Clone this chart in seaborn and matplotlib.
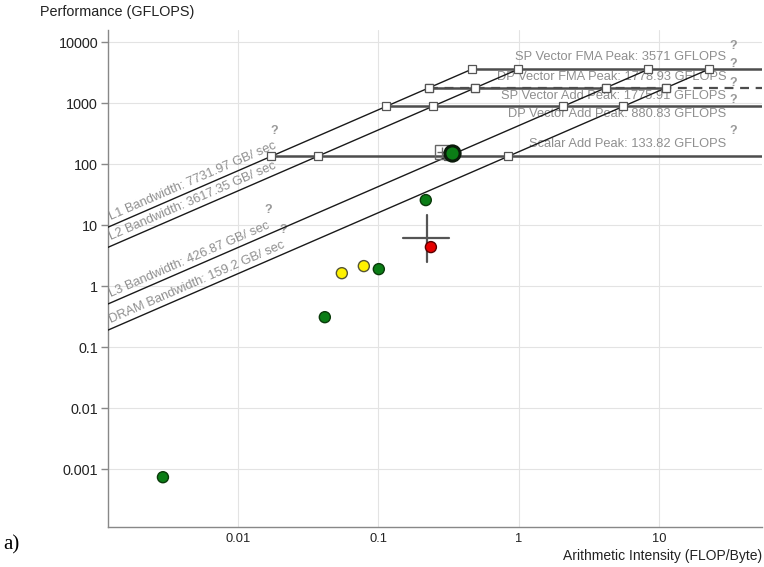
import numpy as np
import pandas as pd
import seaborn as sns
import matplotlib
matplotlib.use('Agg')
import matplotlib.pyplot as plt

# Roofs (GFLOPS) and memory bandwidths (GB/sec)
peak_names = ['SP Vector FMA Peak', 'DP Vector FMA Peak', 'SP Vector Add Peak',
              'DP Vector Add Peak', 'Scalar Add Peak']
peak_values = [3571, 1778.93, 1775.91, 880.83, 133.82]

bw_names = ['L1 Bandwidth', 'L2 Bandwidth', 'L3 Bandwidth', 'DRAM Bandwidth']
bw_values = [7731.97, 3617.35, 426.87, 159.2]

# loops
loop_ai = [0.00294, 0.0417, 0.0551, 0.079, 0.101, 0.218, 0.237]
loop_perf = [0.00074, 0.31, 1.63, 2.13, 1.9, 25.7, 4.36]
loop_kind = ['green', 'green', 'yellow', 'yellow', 'green', 'green', 'red']

hot_ai = [0.333]
hot_perf = [151]
sel_ai = [0.283]
sel_perf = [157]

# cross (ai range, perf range)
cross_ai = [0.15, 0.222, 0.318]
cross_perf = [2.47, 6.1, 14.6]

y_ticks = [0.001, 0.01, 0.1, 1, 10, 100, 1000, 10000]
y_labels = ['0.001', '0.01', '0.1', '1', '10', '100', '1000', '10000']
x_ticks = [0.01, 0.1, 1, 10]
x_labels = ['0.01', '0.1', '1', '10']

sns.set_style('whitegrid', {'grid.color': '#e3e3e3', 'axes.edgecolor': '#888888'})
plt.rcParams['font.family'] = ['Liberation Sans', 'DejaVu Sans']

fig = plt.figure(figsize=(7.64, 5.67), dpi=100)
ax = fig.add_axes([0.141, 0.0705, 0.856, 0.8765])
ax.set_xscale('log')
ax.set_yscale('log')
xmin, xmax = 0.00119, 53.5
ax.set_xlim(xmin, xmax)
ax.set_ylim(1.13e-4, 15700)

# slope of the bandwidth lines on screen
p1 = ax.transData.transform((0.01, 1))
p2 = ax.transData.transform((1, 100))
angle = np.degrees(np.arctan2(p2[1] - p1[1], p2[0] - p1[0]))

top_peak = max(peak_values)
label_gray = '#8f8f8f'

# bandwidth lines, up to the highest roof
bw_texts = []
for name, bw in zip(bw_names, bw_values):
    xs = np.array([xmin, top_peak / bw])
    ax.plot(xs, bw * xs, color='#1a1a1a', lw=1.0, zorder=3)
    x0 = 0.00129
    t = ax.text(x0, bw * x0 * 1.1, f'{name}: {bw:g} GB/ sec', rotation=angle,
                rotation_mode='anchor', ha='left', va='bottom',
                fontsize=9.3, color=label_gray, zorder=2)
    bw_texts.append(t)

# horizontal roofs
text_offsets = [8.6, 8.0, -5.8, -5.5, 8.6]
q_offsets = [16.5, 17.0, 3.6, 4.3, 18.0]
for i, (name, peak) in enumerate(zip(peak_names, peak_values)):
    x_start = peak / bw_values[0]
    if name == 'DP Vector FMA Peak':
        ax.plot([x_start, peak / bw_values[-1]], [peak, peak], color='#4d4d4d', lw=1.8, zorder=3)
    elif name == 'SP Vector Add Peak':
        ax.plot([x_start, xmax], [peak, peak], color='#4d4d4d', lw=1.6, ls=(0, (4, 3)), zorder=3)
    else:
        ax.plot([x_start, xmax], [peak, peak], color='#4d4d4d', lw=1.8, zorder=3)
    ax.annotate(f'{name}: {peak:g} GFLOPS', xy=(30, peak), xytext=(0, text_offsets[i]),
                textcoords='offset points', ha='right', va='center',
                fontsize=9.3, color=label_gray, zorder=2)
    ax.annotate('?', xy=(30, peak), xytext=(2.5, q_offsets[i]),
                textcoords='offset points', ha='left', va='center',
                fontsize=9, fontweight='bold', color='#999999', zorder=2)
    # intersections with the bandwidth lines
    ax.plot([peak / bw for bw in bw_values], [peak] * len(bw_values), ls='none',
            marker='s', ms=5.5, mfc='white', mec='#555555', mew=0.9, zorder=4)

# question marks at the end of bandwidth labels
fig.canvas.draw()
renderer = fig.canvas.get_renderer()
inv = ax.transData.inverted()
for name, t in zip(bw_names, bw_texts):
    if name == 'L2 Bandwidth':
        continue
    bb = t.get_window_extent(renderer)
    qx, qy = inv.transform((bb.x1 - 4, bb.y1 + 9))
    ax.text(qx, qy, '?', ha='center', va='center', fontsize=9,
            fontweight='bold', color='#999999', zorder=2)

# loops
df = pd.DataFrame({'ai': loop_ai, 'perf': loop_perf, 'kind': loop_kind})
palette = {'green': '#0b7d16', 'yellow': '#fff200', 'red': '#e60000'}
edges = {'green': '#0a3a0a', 'yellow': '#555533', 'red': '#5a0000'}
sns.scatterplot(data=df, x='ai', y='perf', hue='kind', palette=palette, s=63,
                edgecolor=[edges[k] for k in loop_kind], linewidth=1.0,
                legend=False, ax=ax, zorder=6)

# selected loop and its marker box
ax.plot(sel_ai, sel_perf, ls='none', marker='s', ms=10, mfc='none',
        mec='#666666', mew=1.0, zorder=5)
ax.plot(sel_ai, sel_perf, ls='none', marker='+', ms=7, mec='#666666', mew=1.0, zorder=5)
sns.scatterplot(x=hot_ai, y=hot_perf, color='#0b7d16', s=120, edgecolor='#0a1a0a',
                linewidth=2.2, legend=False, ax=ax, zorder=7)

# cross
ax.plot([cross_ai[0], cross_ai[2]], [cross_perf[1], cross_perf[1]], color='#555555', lw=1.6, zorder=5)
ax.plot([cross_ai[1], cross_ai[1]], [cross_perf[0], cross_perf[2]], color='#555555', lw=1.6, zorder=5)

ax.set_yticks(y_ticks)
ax.set_yticklabels(y_labels)
ax.set_xticks(x_ticks)
ax.set_xticklabels(x_labels)
ax.minorticks_off()
ax.tick_params(axis='y', length=5, width=1, color='#888888', labelsize=10.4,
               labelcolor='#222222', pad=2, left=True)
ax.tick_params(axis='x', length=0, labelsize=9.3, labelcolor='#222222', pad=4.5)
ax.set_xlabel('')
ax.set_ylabel('')
for side in ['top', 'right']:
    ax.spines[side].set_visible(False)
for side in ['left', 'bottom']:
    ax.spines[side].set_color('#888888')
    ax.spines[side].set_linewidth(1.0)

fig.text(40 / 764, 1 - 12 / 567, 'Performance (GFLOPS)', ha='left', va='center',
         fontsize=10.4, color='#222222')
fig.text(762 / 764, 1 - 556 / 567, 'Arithmetic Intensity (FLOP/Byte)', ha='right',
         va='center', fontsize=10, color='#222222')
fig.text(3 / 764, 1 - 545 / 567, 'a)', ha='left', va='center', fontsize=15,
         family=['Liberation Serif', 'DejaVu Serif'], color='black')

plt.savefig('out.png', dpi=100)
